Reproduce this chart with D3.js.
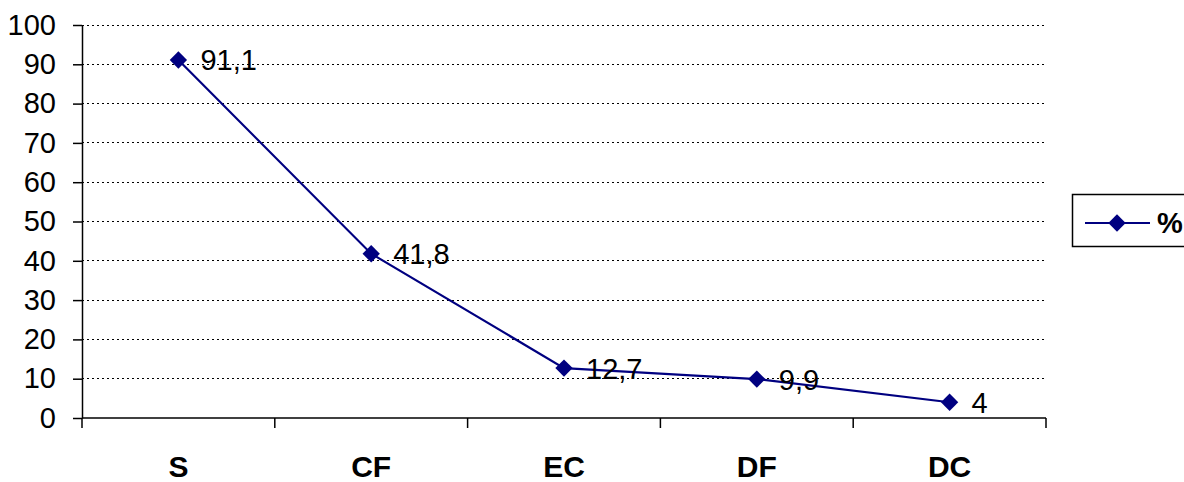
<!DOCTYPE html>
<html>
<head>
<meta charset="utf-8">
<script src="https://cdn.jsdelivr.net/npm/d3@7"></script>
<style>
  html, body { margin: 0; padding: 0; background: #fff; }
  svg { display: block; font-family: Arial, "Liberation Sans", sans-serif; }
</style>
</head>
<body>
<svg id="chart" width="1184" height="482"></svg>
<script>
// Share of each category (%)
const categories = ["S", "CF", "EC", "DF", "DC"];
const values = [91.1, 41.8, 12.7, 9.9, 4];
const valueLabels = ["91,1", "41,8", "12,7", "9,9", "4"];
const yTicks = [0, 10, 20, 30, 40, 50, 60, 70, 80, 90, 100];
const seriesName = "%";

const svg = d3.select("#chart");
const plot = { left: 82, right: 1046, top: 25, bottom: 418 };
const lineColor = "#000080";
const fontSize = 29;

const x = d3.scaleBand().domain(categories).range([plot.left, plot.right]);
const y = d3.scaleLinear().domain([0, 100]).range([plot.bottom, plot.top]);

// dotted horizontal gridlines
svg.append("g")
  .selectAll("line")
  .data(yTicks.filter(d => d > 0))
  .join("line")
  .attr("x1", plot.left).attr("x2", plot.right)
  .attr("y1", d => y(d)).attr("y2", d => y(d))
  .attr("stroke", "#000").attr("stroke-width", 1)
  .attr("stroke-dasharray", "1.5,3.5")
  .attr("shape-rendering", "crispEdges");

// y axis
const yAxis = svg.append("g")
  .attr("transform", `translate(${plot.left},0)`)
  .call(d3.axisLeft(y).tickValues(yTicks).tickSize(9).tickSizeOuter(0).tickPadding(17));
yAxis.select(".domain").attr("stroke", "#000").attr("stroke-width", 1.5);
yAxis.selectAll(".tick line").attr("stroke", "#000").attr("stroke-width", 1.5);
yAxis.selectAll(".tick text")
  .attr("font-size", fontSize).attr("fill", "#000")
  .attr("font-family", "Arial, 'Liberation Sans', sans-serif");

// x axis with ticks between categories
const xAxisG = svg.append("g").attr("transform", `translate(0,${plot.bottom})`);
xAxisG.append("line")
  .attr("x1", plot.left).attr("x2", plot.right)
  .attr("y1", 0).attr("y2", 0)
  .attr("stroke", "#000").attr("stroke-width", 1.5);
const boundaries = categories.map(c => x(c)).concat([x(categories[categories.length - 1]) + x.bandwidth()]);
xAxisG.selectAll("line.sep")
  .data(boundaries)
  .join("line")
  .attr("class", "sep")
  .attr("x1", d => d).attr("x2", d => d)
  .attr("y1", 0).attr("y2", 10)
  .attr("stroke", "#000").attr("stroke-width", 1.5);
xAxisG.selectAll("text")
  .data(categories)
  .join("text")
  .attr("x", d => x(d) + x.bandwidth() / 2)
  .attr("y", 59)
  .attr("text-anchor", "middle")
  .attr("font-size", 30)
  .attr("font-weight", "bold")
  .text(d => d);

// series line
const pts = categories.map((c, i) => ({ c, v: values[i], label: valueLabels[i] }));
const line = d3.line().x(d => x(d.c) + x.bandwidth() / 2).y(d => y(d.v));
svg.append("path")
  .datum(pts)
  .attr("d", line)
  .attr("fill", "none")
  .attr("stroke", lineColor)
  .attr("stroke-width", 2.2);

const diamond = d3.symbol().type(d3.symbolSquare).size(150);
svg.append("g")
  .selectAll("path")
  .data(pts)
  .join("path")
  .attr("d", diamond)
  .attr("transform", d => `translate(${x(d.c) + x.bandwidth() / 2},${y(d.v)}) rotate(45)`)
  .attr("fill", lineColor);

// value labels
svg.append("g")
  .selectAll("text")
  .data(pts)
  .join("text")
  .attr("x", d => x(d.c) + x.bandwidth() / 2 + 22)
  .attr("y", d => y(d.v))
  .attr("dy", "0.36em")
  .attr("font-size", fontSize)
  .attr("fill", "#000")
  .text(d => d.label);

// legend
const legend = svg.append("g");
legend.append("rect")
  .attr("x", 1072.5).attr("y", 194.5)
  .attr("width", 120).attr("height", 52)
  .attr("fill", "#fff").attr("stroke", "#000").attr("stroke-width", 1.5);
legend.append("line")
  .attr("x1", 1085).attr("x2", 1150).attr("y1", 223).attr("y2", 223)
  .attr("stroke", lineColor).attr("stroke-width", 2.2);
legend.append("path")
  .attr("d", diamond)
  .attr("transform", "translate(1117,223) rotate(45)")
  .attr("fill", lineColor);
legend.append("text")
  .attr("x", 1157).attr("y", 223).attr("dy", "0.36em")
  .attr("font-size", fontSize).attr("font-weight", "bold")
  .text(seriesName);
</script>
</body>
</html>
